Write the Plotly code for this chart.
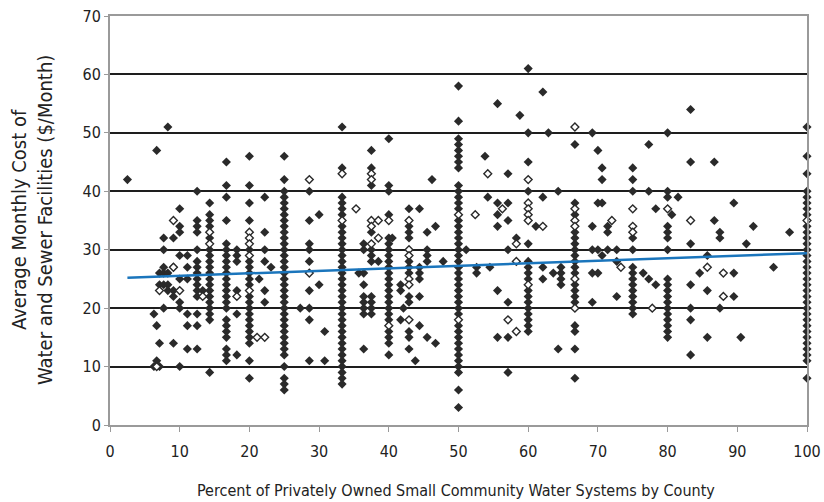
import plotly.graph_objects as go

# ---- data: columns of points (x value -> list of monthly costs) ----
filled_x = [2.5, 6.3, 6.7, 7.1, 7.7, 8.3, 9.1, 10.0, 11.1, 12.5, 13.3, 14.3, 16.7, 18.2, 20.0,
            21.4, 22.2, 23.1, 25.0, 27.3, 28.6, 30.0, 30.8, 33.3, 35.7, 36.4, 37.5, 38.5, 40.0,
            40.5, 41.7, 42.1, 42.9, 43.8, 44.4, 45.5, 46.2, 46.7, 47.8, 50.0, 51.1, 52.6, 53.8,
            54.2, 54.5, 55.6, 57.1, 58.3, 58.8, 60.0, 61.1, 62.1, 62.9, 63.6, 64.3, 64.7, 66.7,
            69.2, 70.0, 70.6, 71.4, 72.7, 75.0, 76.5, 77.3, 78.3, 80.0, 80.6, 81.5, 83.3, 84.6,
            85.7, 86.7, 87.5, 89.5, 90.5, 91.3, 92.3, 95.2, 97.5, 100.0]
filled_y = [
    [42],
    [19, 10],
    [47, 17, 11],
    [26, 24, 14, 10],
    [32, 30, 27, 26, 24, 20],
    [51, 26, 24, 23],
    [32, 27, 23, 22, 14],
    [37, 34, 33, 29, 25, 21, 20, 10],
    [29, 27, 25, 19, 17, 13],
    [40, 35, 34, 33, 30, 28, 27, 26, 25, 24, 23, 22, 19, 17, 13],
    [23],
    [38, 36, 35, 34, 32, 30, 29, 28, 27, 26, 25, 24, 23, 22, 21, 20, 19, 18, 9],
    [45, 41, 39, 35, 31, 30, 29, 28, 27, 26, 25, 24, 23, 22, 21, 20, 18, 17, 16, 15, 13, 12, 11],
    [30, 29, 28, 23, 19, 12],
    [46, 41, 38, 35, 30, 28, 27, 26, 25, 24, 22, 21, 20, 19, 18, 17, 16, 15, 14, 11, 8],
    [25],
    [39, 33, 30, 28, 23, 21],
    [27],
    [46, 42, 40, 39, 38, 37, 36, 35, 34, 33, 32, 31, 30, 29, 28, 27, 26, 25, 24, 23, 22, 21,
     20, 19, 18, 17, 16, 15, 14, 13, 12, 10, 8, 7, 6],
    [20],
    [40, 35, 31, 30, 28, 23, 20, 18, 11],
    [36, 24],
    [16, 11],
    [51, 44, 39, 38, 37, 36, 34, 33, 32, 31, 30, 29, 28, 27, 26, 25, 24, 23, 22, 21, 20, 19,
     18, 17, 16, 15, 14, 13, 12, 11, 10, 9, 8, 7],
    [26],
    [31, 30, 26, 24, 22, 21, 20, 19, 13],
    [47, 44, 41, 33, 30, 29, 28, 22, 21, 20, 19],
    [28],
    [49, 41, 40, 36, 32, 31, 30, 29, 28, 27, 26, 25, 24, 23, 22, 21, 20, 19, 18, 16, 15, 14, 12],
    [32],
    [24, 23, 18],
    [20],
    [37, 34, 33, 32, 28, 27, 26, 22, 21, 16, 15, 13],
    [11],
    [37, 27, 26, 25, 22, 17],
    [33, 30, 29, 28, 15],
    [42],
    [34, 14],
    [28],
    [58, 52, 49, 48, 47, 46, 45, 44, 41, 40, 39, 38, 37, 35, 34, 33, 32, 31, 30, 29, 28, 27,
     26, 25, 24, 23, 22, 21, 20, 19, 17, 16, 15, 14, 13, 12, 11, 10, 9, 6, 3],
    [30],
    [27, 26],
    [46],
    [39],
    [27],
    [55, 38, 36, 34, 23, 15],
    [43, 38, 35, 30, 21, 15, 9],
    [32],
    [53],
    [61, 50, 45, 40, 31, 28, 27, 26, 25, 23, 22, 21, 20, 19, 18, 17, 16],
    [34],
    [57, 39, 27, 25],
    [50],
    [26],
    [40, 13],
    [27, 26, 25, 24],
    [48, 38, 36, 33, 32, 31, 30, 29, 28, 27, 26, 24, 23, 22, 21, 17, 16, 13, 8],
    [50, 34, 30, 26, 21],
    [47, 38, 30, 26],
    [44, 42, 38, 29],
    [34, 33, 30],
    [30, 28, 22],
    [44, 42, 40, 32, 30, 27, 26, 25, 24, 23, 22, 21, 20, 19],
    [26],
    [48, 40, 25],
    [37, 24],
    [50, 40, 39, 34, 33, 32, 30, 25, 24, 23, 22, 21, 20, 19, 18, 17, 16, 15],
    [36],
    [39],
    [54, 45, 31, 24, 20, 18, 12],
    [26],
    [29, 23, 15],
    [45, 35],
    [33, 32, 20],
    [38, 26, 22],
    [15],
    [31],
    [34],
    [27],
    [33],
    [51, 46, 43, 40, 39, 38, 37, 36, 34, 33, 32, 31, 30, 29, 28, 27, 26, 25, 24, 23, 22, 21,
     20, 19, 18, 17, 16, 15, 14, 13, 12, 11, 8],
]

hollow_x = [6.7, 7.1, 9.1, 10.0, 13.3, 14.3, 18.2, 20.0, 21.1, 22.2, 28.6, 33.3, 35.3, 37.5,
            38.5, 40.0, 42.9, 50.0, 52.4, 54.2, 56.3, 57.1, 58.3, 60.0, 62.1, 66.7, 72.0, 73.3,
            75.0, 77.8, 80.0, 83.3, 85.7, 88.0, 100.0]
hollow_y = [
    [10], [23], [35, 27], [23], [22], [33, 31], [22], [33, 32, 31, 29, 23], [15], [15],
    [42, 26], [43, 35], [37], [43, 42, 35, 34, 31], [35, 32], [35, 17],
    [35, 30, 29, 25, 24, 18], [36, 18], [36], [43], [37], [18], [31, 28, 16],
    [42, 38, 37, 36, 35, 24], [34], [51, 37, 35, 34, 25, 20], [35], [27], [37, 34, 33],
    [20], [37], [35], [27], [26, 22], [35],
]

trend_x = [2.5, 100]
trend_y = [25.2, 29.4]

x_ticks = [0, 10, 20, 30, 40, 50, 60, 70, 80, 90, 100]
y_ticks = [0, 10, 20, 30, 40, 50, 60, 70]

x_title = "Percent of Privately Owned Small Community Water Systems by County"
y_title = "Average Monthly Cost of<br>Water and Sewer Facilities ($/Month)"

# ---- flatten ----
fx, fy = [], []
for xv, ys in zip(filled_x, filled_y):
    for yv in ys:
        fx.append(xv)
        fy.append(yv)
hx, hy = [], []
for xv, ys in zip(hollow_x, hollow_y):
    for yv in ys:
        hx.append(xv)
        hy.append(yv)

FONT = "DejaVu Sans Condensed, Liberation Sans Narrow, Arial Narrow, sans-serif"
DARK = "#2a2a2a"
TXT = "#222"

fig = go.Figure()
fig.add_trace(go.Scatter(
    x=fx, y=fy, mode="markers", cliponaxis=False, showlegend=False, hoverinfo="skip",
    marker=dict(symbol="diamond", size=7, color=DARK, line=dict(width=0)),
))
fig.add_trace(go.Scatter(
    x=hx, y=hy, mode="markers", cliponaxis=False, showlegend=False, hoverinfo="skip",
    marker=dict(symbol="diamond", size=6, color="white", line=dict(width=1.4, color=DARK)),
))
fig.add_trace(go.Scatter(
    x=trend_x, y=trend_y, mode="lines", showlegend=False, hoverinfo="skip",
    line=dict(color="#1a75bc", width=2.5),
))

fig.update_layout(
    width=824, height=502,
    margin=dict(l=110, r=17, t=16, b=77),
    paper_bgcolor="white", plot_bgcolor="white",
    font=dict(family=FONT, size=15, color=TXT),
    xaxis=dict(
        range=[0, 100], tickvals=x_ticks, ticktext=[str(v) for v in x_ticks],
        showgrid=False, zeroline=False, automargin=False,
        showline=True, linecolor="#9a9a9a", linewidth=2, mirror=True,
        ticks="outside", ticklen=5, tickcolor="#9a9a9a", tickwidth=1,
        ticklabelstandoff=6,
        tickfont=dict(family=FONT, size=16, color=TXT),
    ),
    yaxis=dict(
        range=[0, 70], tickvals=y_ticks, ticktext=[str(v) for v in y_ticks],
        showgrid=True, gridcolor="#1e1e1e", gridwidth=2, zeroline=False, automargin=False,
        showline=True, linecolor="#9a9a9a", linewidth=2, mirror=True,
        ticks="outside", ticklen=4, tickcolor="#9a9a9a", tickwidth=1,
        tickfont=dict(family=FONT, size=16, color=TXT),
    ),
    annotations=[
        dict(text=x_title, xref="paper", yref="paper", x=0.497, y=-0.159,
             xanchor="center", yanchor="middle", showarrow=False,
             font=dict(family=FONT, size=16, color=TXT)),
        dict(text=y_title, xref="paper", yref="paper", x=-0.1126, y=0.5,
             xanchor="center", yanchor="middle", showarrow=False, textangle=-90,
             font=dict(family=FONT, size=20, color=TXT)),
    ],
)

fig.write_html(
    "out.html",
    config={"displayModeBar": False},
    post_script="document.body.style.margin='0';document.body.style.overflow='hidden';",
)
